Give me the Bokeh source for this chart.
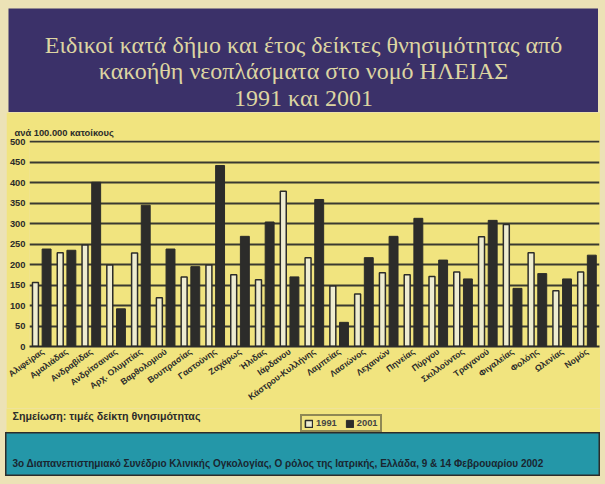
from bokeh.plotting import figure
from bokeh.models import (ColumnDataSource, FactorRange, Range1d, Legend, LegendItem,
                          Title, SingleIntervalTicker)
from bokeh.layouts import column
from bokeh.transform import dodge
from bokeh.core.properties import value
from bokeh.embed import file_html
from bokeh.resources import INLINE
import math

# ---------------- data ----------------
municipalities = ["Αλιφείρας", "Αμαλιάδας", "Ανδραβίδας", "Ανδρίτσαινας", "Αρχ. Ολυμπίας",
                  "Βαρθολομιού", "Βουπρασίας", "Γαστούνης", "Ζαχάρως", "Ήλιδας",
                  "Ιάρδανου", "Κάστρου-Κυλλήνης", "Λαμπείας", "Λασιώνος", "Λεχαινών",
                  "Πηνείας", "Πύργου", "Σκιλλούντος", "Τραγανού", "Φιγαλείας",
                  "Φολόης", "Ωλενίας", "Νομός"]
rate_1991 = [156, 229, 248, 199, 228, 119, 170, 199, 175, 163, 379, 217, 148, 128,
             180, 175, 171, 182, 268, 298, 229, 136, 182]
rate_2001 = [238, 235, 401, 92, 345, 238, 195, 442, 269, 304, 170, 359, 59, 217,
             269, 313, 211, 165, 308, 142, 178, 165, 223]
years = ["1991", "2001"]

title_lines = ["Ειδικοί κατά δήμο και έτος δείκτες θνησιμότητας από",
               "κακοήθη νεοπλάσματα στο νομό ΗΛΕΙΑΣ",
               "1991 και 2001"]
y_label = "ανά 100.000 κατοίκους"
note_text = "Σημείωση: τιμές δείκτη θνησιμότητας"
source_text = ("3ο Διαπανεπιστημιακό Συνέδριο Κλινικής Ογκολογίας, Ο ρόλος της Ιατρικής, "
               "Ελλάδα, 9 & 14 Φεβρουαρίου 2002")

CREAM = "#ece2b6"
PURPLE = "#3b3169"
YELLOW = "#f1e47f"
TEAL = "#2497a8"
DARK = "#2c2c2a"
LIGHT = "#eeecd0"

# ---------------- title panel ----------------
t = figure(width=590, height=104, x_range=(0, 1), y_range=(0, 104),
           output_backend="svg", toolbar_location=None,
           x_axis_location=None, y_axis_location=None, min_border=0,
           margin=(8, 7, 0, 8))
t.frame_align = False
t.grid.visible = False
t.outline_line_color = None
t.background_fill_color = PURPLE
t.border_fill_color = PURPLE
tsrc = ColumnDataSource(dict(x=[0.5, 0.5, 0.5], y=[68, 42, 15], text=title_lines))
t.text(x="x", y="y", text="text", source=tsrc, text_align="center",
       text_baseline="middle", text_color="#ddd5a2",
       text_font=value("Liberation Serif"), text_font_size="24px")

# ---------------- main chart ----------------
src = ColumnDataSource(dict(cat=municipalities, r91=rate_1991, r01=rate_2001))
p = figure(width=594, height=296, x_range=FactorRange(*municipalities, range_padding=0),
           y_range=Range1d(0, 503), output_backend="svg", toolbar_location=None,
           min_border_top=28, min_border_left=0, min_border_right=1, min_border_bottom=62,
           margin=(0, 5, 0, 6))
p.frame_align = False
p.background_fill_color = YELLOW
p.border_fill_color = YELLOW
p.outline_line_color = None

b1 = p.vbar(x=dodge("cat", -0.26, range=p.x_range), top="r91", width=0.24, source=src,
            fill_color=LIGHT, line_color=DARK, line_width=1.5)
b2 = p.vbar(x=dodge("cat", 0.19, range=p.x_range), top="r01", width=0.36, source=src,
            fill_color=DARK, line_color=DARK)

p.xgrid.visible = False
p.ygrid.grid_line_color = "#3a3a30"
p.ygrid.grid_line_width = 2
p.yaxis.ticker = SingleIntervalTicker(interval=50)
p.yaxis.axis_line_color = None
p.yaxis.major_tick_line_color = None
p.yaxis.minor_tick_line_color = None
p.yaxis.major_tick_out = 0
p.yaxis.major_tick_in = 0
p.yaxis.minor_tick_out = 0
p.yaxis.major_label_text_font = "Liberation Sans"
p.yaxis.major_label_text_font_style = "bold"
p.yaxis.major_label_text_font_size = "7pt"
p.yaxis.major_label_text_color = DARK
p.yaxis.major_label_standoff = 4

p.xaxis.axis_line_color = DARK
p.xaxis.axis_line_width = 2
p.xaxis.major_tick_line_color = None
p.xaxis.minor_tick_line_color = None
p.xaxis.major_tick_out = 0
p.xaxis.major_tick_in = 0
p.xaxis.major_label_standoff = 4
p.xaxis.major_label_orientation = math.pi / 5
p.xaxis.major_label_text_font = "Liberation Sans"
p.xaxis.major_label_text_font_style = "bold"
p.xaxis.major_label_text_font_size = "6.5pt"
p.xaxis.major_label_text_color = DARK

p.add_layout(Title(text=y_label, align="left", offset=-15, text_font="Liberation Sans",
                   text_font_style="bold", text_font_size="7pt", text_color=DARK,
                   standoff=6), "above")

# ---------------- note + legend strip ----------------
n = figure(width=594, height=24, x_range=(0, 594), y_range=(0, 24),
           output_backend="svg", toolbar_location=None,
           x_axis_location=None, y_axis_location=None, min_border=0,
           margin=(0, 5, 0, 6))
n.frame_align = False
n.grid.visible = False
n.outline_line_color = None
n.background_fill_color = YELLOW
n.border_fill_color = YELLOW
nsrc = ColumnDataSource(dict(x=[6], y=[17], text=[note_text]))
n.text(x="x", y="y", text="text", source=nsrc, text_align="left",
       text_baseline="middle", text_color=DARK,
       text_font=value("Liberation Sans"), text_font_style="bold", text_font_size="8pt")
# legend proxies (placed outside the visible range)
proxy = ColumnDataSource(dict(x=[-100], top=[0]))
k1 = n.vbar(x="x", top="top", width=1, source=proxy, fill_color=LIGHT, line_color=DARK,
            line_width=1.5)
k2 = n.vbar(x="x", top="top", width=1, source=proxy, fill_color=DARK, line_color=DARK)
legend = Legend(items=[LegendItem(label=years[0], renderers=[k1]),
                       LegendItem(label=years[1], renderers=[k2])],
                orientation="horizontal", location=(294, 0),
                background_fill_color=YELLOW, border_line_color=DARK, border_line_width=2,
                label_text_font="Liberation Sans", label_text_font_style="bold",
                label_text_font_size="7pt", glyph_width=9, glyph_height=9,
                padding=2, spacing=8, margin=0, label_standoff=3, label_height=9)
n.add_layout(legend)

# ---------------- footer ----------------
f = figure(width=595, height=44, x_range=(0, 595), y_range=(0, 44),
           output_backend="svg", toolbar_location=None,
           x_axis_location=None, y_axis_location=None, min_border=0,
           margin=(0, 5, 8, 5))
f.frame_align = False
f.grid.visible = False
f.background_fill_color = TEAL
f.border_fill_color = TEAL
f.outline_line_color = DARK
f.outline_line_width = 2
fsrc = ColumnDataSource(dict(x=[7], y=[13], text=[source_text]))
f.text(x="x", y="y", text="text", source=fsrc, text_align="left",
       text_baseline="middle", text_color="#1a2630",
       text_font=value("Liberation Sans"), text_font_style="bold", text_font_size="7.5pt")

layout = column(t, p, n, f, spacing=0, styles={"background-color": CREAM})
open("out.html", "w").write(file_html(layout, INLINE))
